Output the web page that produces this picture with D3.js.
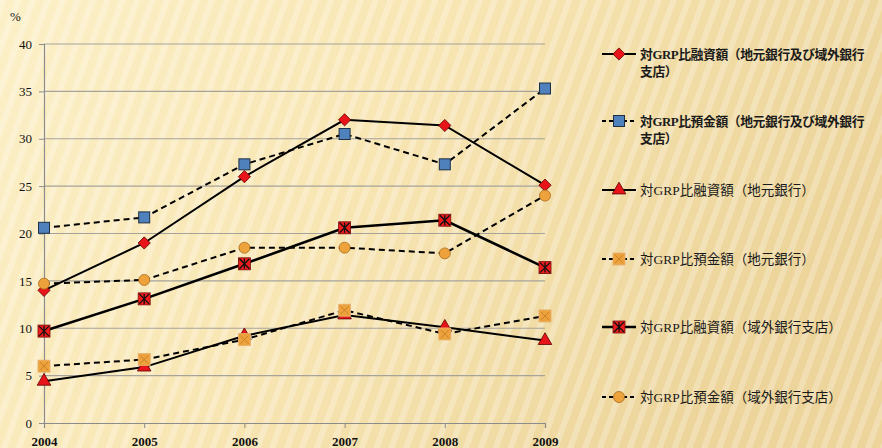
<!DOCTYPE html>
<html>
<head>
<meta charset="utf-8">
<script src="https://cdn.jsdelivr.net/npm/d3@7"></script>
<style>
  body { margin: 0; }
  svg { display: block; }
</style>
</head>
<body>
<svg id="chart"></svg>
<script>
const years = [2004, 2005, 2006, 2007, 2008, 2009];
const yTicks = [0, 5, 10, 15, 20, 25, 30, 35, 40];

// series values (%)
const loanAll = [14.0, 19.0, 26.0, 32.0, 31.4, 25.1];
const depositAll = [20.6, 21.7, 27.3, 30.5, 27.3, 35.3];
const loanLocal = [4.4, 5.9, 9.2, 11.4, 10.1, 8.7];
const depositLocal = [6.0, 6.7, 8.8, 11.9, 9.4, 11.3];
const loanForeign = [9.7, 13.1, 16.8, 20.6, 21.4, 16.4];
const depositForeign = [14.7, 15.1, 18.5, 18.5, 17.9, 24.0];

const labels = [
  "対GRP比融資額（地元銀行及び域外銀行支店）",
  "対GRP比預金額（地元銀行及び域外銀行支店）",
  "対GRP比融資額（地元銀行）",
  "対GRP比預金額（地元銀行）",
  "対GRP比融資額（域外銀行支店）",
  "対GRP比預金額（域外銀行支店）"
];

const series = [
  {values: loanAll, marker: "diamond", dash: null, width: 2, bold: true},
  {values: depositAll, marker: "square", dash: "6,4", width: 2, bold: true},
  {values: loanLocal, marker: "triangle", dash: null, width: 2, bold: false},
  {values: depositLocal, marker: "osquare", dash: "6,4", width: 2, bold: false},
  {values: loanForeign, marker: "xsquare", dash: null, width: 2.6, bold: false},
  {values: depositForeign, marker: "circle", dash: "6,4", width: 2, bold: false}
];

const W = 882, H = 448;
const svg = d3.select("#chart").attr("width", W).attr("height", H);
const defs = svg.append("defs");

// background: golden gradient with soft diagonal stripes
const grad = defs.append("linearGradient").attr("id", "bg")
  .attr("x1", "0").attr("y1", "0").attr("x2", "1").attr("y2", "0.3");
grad.append("stop").attr("offset", "0").attr("stop-color", "#fcf0c8");
grad.append("stop").attr("offset", "0.45").attr("stop-color", "#f8e6b4");
grad.append("stop").attr("offset", "1").attr("stop-color", "#ecd49a");

const pat = defs.append("pattern").attr("id", "stripes")
  .attr("width", 14).attr("height", 14)
  .attr("patternUnits", "userSpaceOnUse")
  .attr("patternTransform", "rotate(20)");
pat.append("rect").attr("width", 6).attr("height", 14)
  .attr("fill", "#ffffff").attr("opacity", 0.25);

svg.append("rect").attr("width", W).attr("height", H).attr("fill", "url(#bg)");
svg.append("rect").attr("width", W).attr("height", H).attr("fill", "url(#stripes)");

const margin = {left: 44, top: 44};
const plotW = 501, plotH = 379;

const x = d3.scalePoint().domain(years).range([0, plotW]);
const y = d3.scaleLinear().domain([0, 40]).range([plotH, 0]);

const g = svg.append("g").attr("transform", `translate(${margin.left},${margin.top})`);

// gridlines
g.append("g").selectAll("line").data(yTicks.filter(d => d > 0)).join("line")
  .attr("x1", 0).attr("x2", plotW)
  .attr("y1", d => y(d)).attr("y2", d => y(d))
  .attr("stroke", "#a6a39a").attr("stroke-width", 1.2);

const serif = "'Liberation Serif', 'Noto Sans CJK JP', serif";

// y axis
const yAxis = g.append("g").call(d3.axisLeft(y).tickValues(yTicks).tickSize(5).tickPadding(7));
yAxis.select(".domain").attr("stroke", "#8c8c8c").attr("stroke-width", 1.2);
yAxis.selectAll(".tick line").attr("stroke", "#8c8c8c");
yAxis.selectAll("text").attr("font-family", serif).attr("font-size", 13).attr("fill", "#111");

// x axis
const xAxis = g.append("g").attr("transform", `translate(0,${plotH})`)
  .call(d3.axisBottom(x).tickSize(5).tickPadding(9).tickFormat(d3.format("d")));
xAxis.select(".domain").attr("stroke", "#8c8c8c").attr("stroke-width", 1.2);
xAxis.selectAll(".tick line").attr("stroke", "#8c8c8c");
xAxis.selectAll("text").attr("font-family", serif).attr("font-size", 13)
  .attr("font-weight", "bold").attr("fill", "#111");

svg.append("text").attr("x", 10).attr("y", 21).text("%")
  .attr("font-family", serif).attr("font-size", 13).attr("fill", "#111");

// markers
function drawMarker(sel, type) {
  if (type === "diamond") {
    sel.append("path").attr("d", d3.symbol(d3.symbolDiamond2, 95)())
      .attr("fill", "#e8141a").attr("stroke", "#5a0000").attr("stroke-width", 0.8);
  } else if (type === "square") {
    sel.append("rect").attr("x", -5.5).attr("y", -5.5).attr("width", 11).attr("height", 11)
      .attr("fill", "#4f81bd").attr("stroke", "#1e2f44").attr("stroke-width", 1);
  } else if (type === "triangle") {
    sel.append("path").attr("d", d3.symbol(d3.symbolTriangle, 80)())
      .attr("fill", "#e8141a").attr("stroke", "#5a0000").attr("stroke-width", 0.8);
  } else if (type === "osquare") {
    sel.append("rect").attr("x", -6).attr("y", -6).attr("width", 12).attr("height", 12)
      .attr("fill", "#eea23c").attr("stroke", "#e4b070").attr("stroke-width", 0.8);
    sel.append("path").attr("d", "M-4,-4L4,4M4,-4L-4,4")
      .attr("stroke", "#c7822a").attr("stroke-width", 1);
  } else if (type === "xsquare") {
    sel.append("rect").attr("x", -6).attr("y", -6).attr("width", 12).attr("height", 12)
      .attr("fill", "#ee1c1c").attr("stroke", "#7a0a0a").attr("stroke-width", 0.8);
    sel.append("path").attr("d", "M-5,-5L5,5M5,-5L-5,5M0,-5L0,5")
      .attr("stroke", "#111").attr("stroke-width", 1.3);
  } else if (type === "circle") {
    sel.append("circle").attr("r", 5.5)
      .attr("fill", "#eea23c").attr("stroke", "#a86a1a").attr("stroke-width", 0.8);
  }
}

const line = d3.line().x((d, i) => x(years[i])).y(d => y(d));

series.forEach(s => {
  g.append("path").datum(s.values)
    .attr("d", line).attr("fill", "none")
    .attr("stroke", "#000").attr("stroke-width", s.width)
    .attr("stroke-dasharray", s.dash);
});
series.forEach(s => {
  g.append("g").selectAll("g").data(s.values).join("g")
    .attr("transform", (d, i) => `translate(${x(years[i])},${y(d)})`)
    .each(function() { drawMarker(d3.select(this), s.marker); });
});

// legend
const legendY = [54, 121, 190, 259, 327, 397];
const legend = svg.append("g");
series.forEach((s, i) => {
  const item = legend.append("g").attr("transform", `translate(602,${legendY[i]})`);
  item.append("line").attr("x1", 0).attr("x2", 34).attr("y1", 0).attr("y2", 0)
    .attr("stroke", "#000").attr("stroke-width", s.width)
    .attr("stroke-dasharray", s.dash ? "4,3" : null);
  const m = item.append("g").attr("transform", "translate(17,0)");
  drawMarker(m, s.marker);
  const txt = item.append("text").attr("x", 38).attr("y", 5)
    .attr("font-family", serif).attr("font-size", s.bold ? 12.8 : 13.5)
    .attr("letter-spacing", s.bold ? -0.4 : 0)
    .attr("font-weight", s.bold ? "bold" : "normal").attr("fill", "#1a1a1a");
  // wrap text at max width
  const chars = Array.from(labels[i]);
  let lineStr = "";
  let tspan = txt.append("tspan").attr("x", 38).attr("dy", 0);
  chars.forEach(c => {
    tspan.text(lineStr + c);
    if (tspan.node().getComputedTextLength() > 236 && lineStr.length) {
      tspan.text(lineStr);
      lineStr = c;
      tspan = txt.append("tspan").attr("x", 38).attr("dy", 17).text(c);
    } else {
      lineStr += c;
    }
  });
});
</script>
</body>
</html>
